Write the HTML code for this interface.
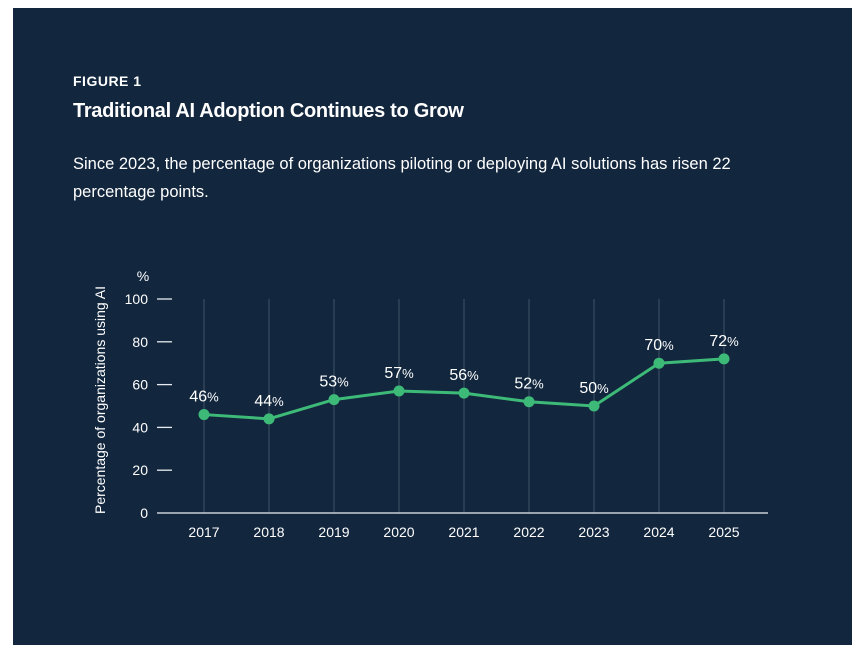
<!DOCTYPE html>
<html><head><meta charset="utf-8"><style>
body{margin:0;width:866px;height:656px;background:#fff;font-family:"Liberation Sans",sans-serif;overflow:hidden}
#panel{position:absolute;left:13px;top:8px;width:839px;height:637px;background:#12263d}
.t{position:absolute;color:#fff}
</style></head><body>
<div id="panel"></div>
<div class="t" style="left:73px;top:73px;font-size:14px;font-weight:bold;letter-spacing:0.5px">FIGURE 1</div>
<div class="t" style="left:73px;top:100px;font-size:20px;font-weight:bold;letter-spacing:-0.3px">Traditional AI Adoption Continues to Grow</div>
<div class="t" style="left:73px;top:150px;font-size:16.5px;line-height:28px;width:720px">Since 2023, the percentage of organizations piloting or deploying AI solutions has risen 22 percentage points.</div>
<svg id="chart" width="866" height="656" style="position:absolute;left:0;top:0"></svg>
<script>
const years=["2017","2018","2019","2020","2021","2022","2023","2024","2025"];
const values=[46,44,53,57,56,52,50,70,72];
const yTicks=[0,20,40,60,80,100];
const svg=document.getElementById('chart');
const NS='http://www.w3.org/2000/svg';
const x=i=>204+i*65;
const y=v=>513-v*2.14;
function mk(tag,attrs,txt){const e=document.createElementNS(NS,tag);for(const k in attrs)e.setAttribute(k,attrs[k]);if(txt!==undefined)e.textContent=txt;svg.appendChild(e);return e;}
let e;
e=mk('text',{x:105,y:400,fill:'#fff','font-size':14,'text-anchor':'middle',transform:'rotate(-90 105 400)'},'Percentage of organizations using AI');


e=mk('text',{x:143,y:281,fill:'#fff','font-size':14,'text-anchor':'middle'},'%');


yTicks.forEach(t=>{
  if(t>0){e=mk('line',{x1:157,x2:172,y1:y(t),y2:y(t),stroke:'#e8ecf0','stroke-width':1.3});
  
  }
  e=mk('text',{x:148,y:y(t)+5,fill:'#fff','font-size':14,'text-anchor':'end'},String(t));
  
  
});
years.forEach((yr,i)=>{
  e=mk('line',{x1:x(i),x2:x(i),y1:y(100),y2:y(0),stroke:'#3e5168','stroke-width':1});
  
  
  e=mk('text',{x:x(i),y:537,fill:'#fff','font-size':14,'text-anchor':'middle'},yr);
  
  
});
e=mk('line',{x1:157,x2:768,y1:y(0),y2:y(0),stroke:'#c8ced6','stroke-width':1.5});


e=mk('polyline',{points:values.map((v,i)=>x(i)+','+y(v)).join(' '),fill:'none',stroke:'#3dba78','stroke-width':3});


values.forEach((v,i)=>{
  e=mk('circle',{cx:x(i),cy:y(v),r:5.5,fill:'#3dba78'});
  
  
  const t=mk('text',{x:x(i),y:y(v)-13,fill:'#fff','font-size':16,'text-anchor':'middle'});
  
  
  const s1=document.createElementNS(NS,'tspan');s1.textContent=v;t.appendChild(s1);
  const s2=document.createElementNS(NS,'tspan');s2.setAttribute('font-size','13');s2.textContent='%';t.appendChild(s2);
});
</script>
</body></html>
